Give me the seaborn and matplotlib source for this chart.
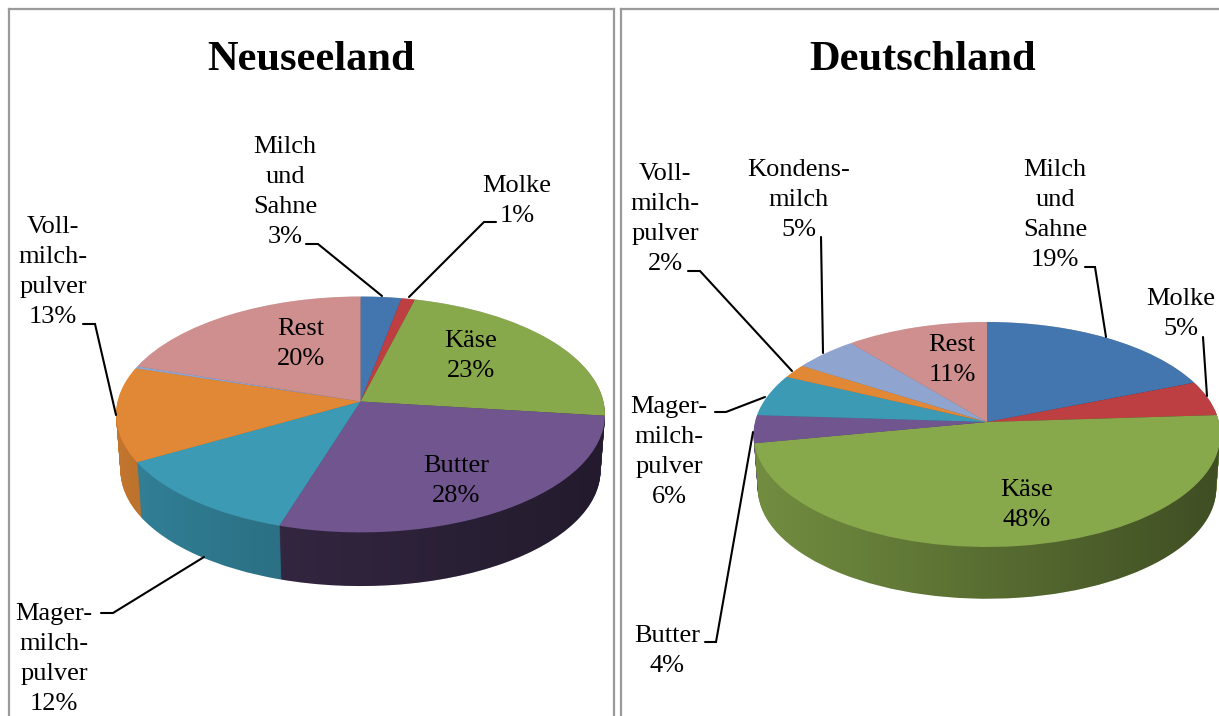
import numpy as np
import matplotlib
matplotlib.use("Agg")
import matplotlib.pyplot as plt
from matplotlib.path import Path
from matplotlib.patches import PathPatch
from matplotlib.transforms import Transform
import seaborn as sns

# ---- data ----
nz_title = "Neuseeland"
nz_names = ["Milch\nund\nSahne", "Molke", "Käse", "Butter", "Mager-\nmilch-\npulver",
            "Voll-\nmilch-\npulver", "Kondensmilch", "Rest"]
nz_values = [3, 1, 23, 28, 12, 13, 0.3, 20]

de_title = "Deutschland"
de_names = ["Milch\nund\nSahne", "Molke", "Käse", "Butter", "Mager-\nmilch-\npulver",
            "Voll-\nmilch-\npulver", "Kondens-\nmilch", "Rest"]
de_values = [19, 5, 48, 4, 6, 2, 5, 11]

slice_colors = ["#4375AE", "#BE3F42", "#88A84C", "#70558F", "#3C9AB5", "#E08835", "#8FA5D0", "#CF8F8F"]
nz_wall = [0.8, 0.8, 0.7, 0.52, 0.84, 0.86, 0.8, 0.8]
de_wall = [0.8, 0.8, 0.84, 0.8, 0.8, 0.8, 0.8, 0.8]

# ---- label layout (pixels of the figure) ----
nz_label_pos = [(285, 192), (517, 201), (471, 356), (456, 481), (54, 659), (53, 272), None, (301, 344)]
de_label_pos = [(1055, 215), (1181, 314), (1027, 505), (667, 651), (669, 452), (665, 219), (799, 200), (952, 360)]
nz_leaders = [[(306, 244), (318, 244), (382, 296)], [(496, 222), (484, 222), (409, 297)],
              [(83, 324), (95, 324), (116, 415)], [(101, 613), (113, 613), (204, 557)]]
de_leaders = [[(688, 271), (700, 271), (792, 371)], [(821, 237), (823, 353)],
              [(1085, 267), (1095, 267), (1106, 337)], [(1203, 337), (1207, 396)],
              [(715, 412), (726, 412), (765, 397)], [(705, 642), (716, 642), (753, 432)]]


class PieView(Transform):
    """Tilted-disc perspective: unit pie -> figure pixels."""
    input_dims = 2
    output_dims = 2
    is_separable = False
    has_inverse = False

    def __init__(self, cx, cy, rx, ry, k, dy=0.0, s=1.0):
        super().__init__()
        self.p = (cx, cy, rx, ry, k, dy, s)

    def transform_non_affine(self, xy):
        cx, cy, rx, ry, k, dy, s = self.p
        xy = np.asarray(xy, dtype=float)
        w = 1 + k * xy[:, 1]
        return np.column_stack([cx + s * rx * xy[:, 0] / w, cy + dy - s * ry * xy[:, 1] / w])


sns.set_theme(style="white")
plt.rcParams["font.family"] = ["Liberation Serif", "DejaVu Serif"]

W, H = 1219, 716
fig = plt.figure(figsize=(W / 100, H / 100), dpi=100, facecolor="white")
BORDER = "#9A9A9A"


def shade(hex_color, f):
    return tuple(c * f for c in matplotlib.colors.to_rgb(hex_color))


def panel(x0, x1, title, title_x, names, values, wall, pos, leaders, geom, depth, dark):
    y0 = 9
    ax = fig.add_axes([x0 / W, 0, (x1 - x0) / W, (H - y0) / H])
    palette = sns.color_palette(slice_colors)
    wall_cols = [shade(c, f) for c, f in zip(palette, wall)]

    def draw(colors, dy, s, z):
        wedges, _ = ax.pie(values, startangle=90, counterclock=False, colors=colors, radius=1,
                           wedgeprops=dict(linewidth=0))
        view = PieView(*geom, dy=dy, s=s)
        for w in wedges:
            w.set_transform(view + ax.transData)
            w.set_clip_on(False)
            w.set_zorder(z)

    for d in np.arange(depth, 0, -1.0):
        draw(wall_cols, d, 1 - 0.018 * d / depth, 1)
    draw(palette, 0, 1, 3)

    ax.set_aspect("auto")
    ax.set_xlim(x0, x1)
    ax.set_ylim(H, y0)
    ax.set_xticks([])
    ax.set_yticks([])
    ax.set_frame_on(True)
    for name, sp in ax.spines.items():
        sp.set_visible(name in ("left", "top", "right") and not (x1 >= W and name == "right"))
        sp.set_color(BORDER)
        sp.set_linewidth(1.6)

    # horizontal darkening of the wall
    cx, cy, rx, ry, k = geom
    tilt = np.arcsin(k)
    t = np.linspace(-tilt, np.pi + tilt, 90)
    upper = PieView(*geom).transform_non_affine(np.column_stack([np.cos(t), np.sin(t)]))
    t2 = np.linspace(np.pi + tilt, 2 * np.pi - tilt, 90)
    lower = PieView(*geom, dy=depth, s=0.982).transform_non_affine(np.column_stack([np.cos(t2), np.sin(t2)]))
    sil = np.vstack([upper, lower, upper[:1]])
    clip = PathPatch(Path(sil), transform=ax.transData, facecolor="none", edgecolor="none")
    clip.set_clip_on(False)
    ax.add_patch(clip)
    grad = np.zeros((1, 256, 4))
    grad[..., 3] = np.linspace(0, dark, 256)
    im = ax.imshow(grad, extent=(sil[:, 0].min(), sil[:, 0].max(), sil[:, 1].max() + 2, sil[:, 1].min() - 2),
                   aspect="auto", zorder=2)
    im.set_clip_path(clip)
    ax.set_xlim(x0, x1)
    ax.set_ylim(H, y0)

    ax.text(title_x, 60, title, ha="center", va="center", fontsize=30.6, fontweight="bold", color="black", zorder=5)
    for name, v, p in zip(names, values, pos):
        if p is None:
            continue
        ax.text(p[0], p[1], f"{name}\n{v}%", ha="center", va="center", fontsize=19,
                linespacing=1.48, color="black", zorder=5, clip_on=False)
    for pts in leaders:
        xs, ys = zip(*pts)
        ax.plot(xs, ys, color="black", lw=1.5, zorder=4, clip_on=False, solid_joinstyle="miter")
    return ax


panel(9, 614, nz_title, 311, nz_names, nz_values, nz_wall, nz_label_pos, nz_leaders,
      (360.5, 401.5, 243, 116.5, 0.11), 56, 0.4)
panel(621, 1219, de_title, 923, de_names, de_values, de_wall, de_label_pos, de_leaders,
      (987, 422, 232, 111.1, 0.111), 54, 0.45)

fig.savefig("out.png", dpi=100, facecolor="white")
